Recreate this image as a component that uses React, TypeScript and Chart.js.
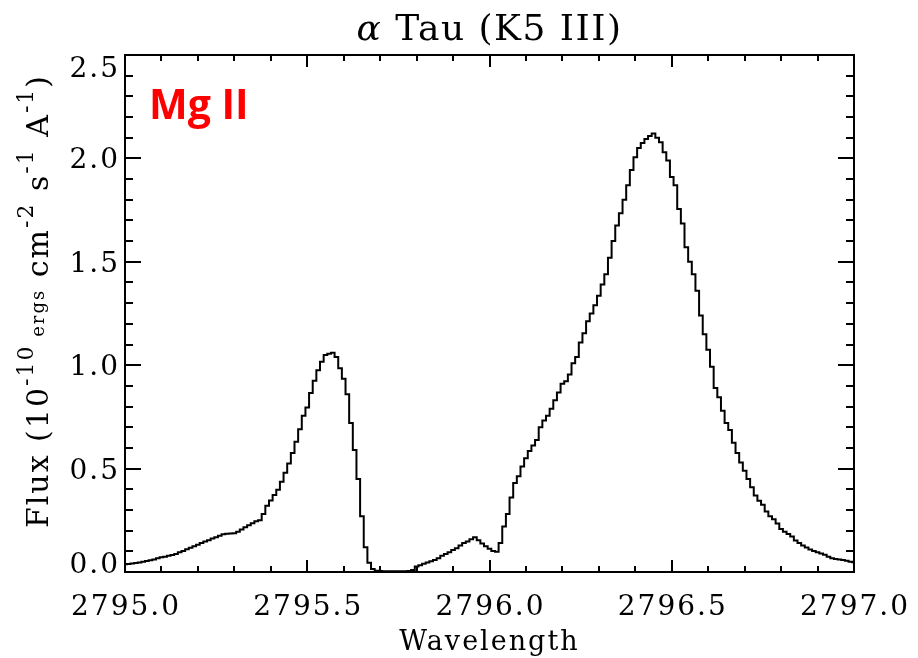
import { useEffect, useRef } from "react";
import { Chart, registerables } from "chart.js";

Chart.register(...registerables);

// Sampling grid of the spectrum (Angstrom)
const WAVE_START = 2795.0;
const WAVE_STEP = 0.01;

// Flux (1e-10 ergs cm^-2 s^-1 A^-1), one value per bin
const FLUX = [
  0.037, 0.039, 0.041, 0.043, 0.046, 0.050, 0.053, 0.057, 0.060, 0.066,
  0.071, 0.074, 0.078, 0.082, 0.087, 0.095, 0.102, 0.110, 0.117, 0.124,
  0.132, 0.140, 0.147, 0.154, 0.162, 0.168, 0.175, 0.182, 0.185, 0.186,
  0.187, 0.195, 0.206, 0.216, 0.226, 0.236, 0.245, 0.250, 0.280, 0.320,
  0.346, 0.372, 0.398, 0.437, 0.480, 0.525, 0.575, 0.630, 0.690, 0.755,
  0.795, 0.865, 0.925, 0.975, 1.017, 1.049, 1.055, 1.060, 1.040, 0.985,
  0.935, 0.860, 0.720, 0.590, 0.450, 0.270, 0.120, 0.045, 0.015, 0.006,
  0.005, 0.004, 0.004, 0.004, 0.004, 0.004, 0.004, 0.004, 0.005, 0.010,
  0.026, 0.033, 0.040, 0.046, 0.052, 0.058, 0.066, 0.078, 0.087, 0.096,
  0.106, 0.115, 0.128, 0.140, 0.148, 0.158, 0.168, 0.153, 0.138, 0.125,
  0.112, 0.101, 0.098, 0.140, 0.220, 0.280, 0.360, 0.430, 0.463, 0.510,
  0.550, 0.585, 0.612, 0.638, 0.700, 0.733, 0.756, 0.790, 0.830, 0.868,
  0.910, 0.922, 0.955, 1.010, 1.040, 1.110, 1.155, 1.212, 1.250, 1.290,
  1.336, 1.390, 1.440, 1.520, 1.600, 1.675, 1.735, 1.800, 1.870, 1.944,
  2.005, 2.050, 2.075, 2.094, 2.108, 2.121, 2.100, 2.078, 2.030, 1.990,
  1.910, 1.870, 1.755, 1.685, 1.570, 1.500, 1.440, 1.360, 1.240, 1.150,
  1.075, 0.993, 0.890, 0.845, 0.780, 0.720, 0.687, 0.625, 0.575, 0.530,
  0.490, 0.450, 0.410, 0.370, 0.345, 0.325, 0.292, 0.270, 0.255, 0.235,
  0.208, 0.195, 0.184, 0.172, 0.152, 0.140, 0.128, 0.118, 0.109, 0.102,
  0.096, 0.090, 0.084, 0.074, 0.066, 0.063, 0.060, 0.058, 0.054, 0.050,
  0.047,
];

const X_MIN = 2795.0;
const X_MAX = 2797.0;
const Y_MIN = 0.0;
const Y_MAX = 2.5;
const X_TICKS = [2795.0, 2795.5, 2796.0, 2796.5, 2797.0];
const Y_TICKS = [0.0, 0.5, 1.0, 1.5, 2.0, 2.5];
const X_MINOR = 0.1;
const Y_MINOR = 0.1;

const TITLE_GREEK = "α";
const TITLE_REST = " Tau (K5 III)";
const X_TITLE = "Wavelength";
const LINE_LABEL = "Mg II";
const Y_TITLE_PARTS = [
  { t: "Flux (10", s: 1, r: 0 },
  { t: "-10", s: 0.72, r: 0.5 },
  { t: " ergs", s: 0.6, r: 0.12 },
  { t: " cm", s: 1, r: 0 },
  { t: "-2", s: 0.72, r: 0.5 },
  { t: " s", s: 1, r: 0 },
  { t: "-1", s: 0.72, r: 0.5 },
  { t: " A", s: 1, r: 0 },
  { t: "-1", s: 0.72, r: 0.5 },
  { t: ")", s: 1, r: 0 },
];

const SERIF = "'DejaVu Serif', serif";

const framePlugin = {
  id: "idlFrame",
  afterDatasetsDraw(chart: any) {
    const { ctx, chartArea: a, scales } = chart;
    const xs = scales.x;
    const ys = scales.y;
    ctx.save();
    ctx.strokeStyle = "#000";
    ctx.lineWidth = 2;
    ctx.strokeRect(a.left, a.top, a.right - a.left, a.bottom - a.top);

    // inward ticks on all four sides
    ctx.beginPath();
    const nx = Math.round((X_MAX - X_MIN) / X_MINOR);
    for (let k = 0; k <= nx; k++) {
      const v = X_MIN + k * X_MINOR;
      const px = Math.round(xs.getPixelForValue(v));
      const len = k % 5 === 0 ? 12 : 6;
      ctx.moveTo(px, a.bottom);
      ctx.lineTo(px, a.bottom - len);
      ctx.moveTo(px, a.top);
      ctx.lineTo(px, a.top + len);
    }
    const ny = Math.round((Y_MAX - Y_MIN) / Y_MINOR);
    for (let k = 0; k <= ny; k++) {
      const v = Y_MIN + k * Y_MINOR;
      const py = Math.round(ys.getPixelForValue(v));
      const len = k % 5 === 0 ? 16 : 8;
      ctx.moveTo(a.left, py);
      ctx.lineTo(a.left + len, py);
      ctx.moveTo(a.right, py);
      ctx.lineTo(a.right - len, py);
    }
    ctx.stroke();

    ctx.fillStyle = "#000";
    (ctx as any).letterSpacing = "2px";
    // x tick labels
    ctx.font = `28px ${SERIF}`;
    ctx.textAlign = "center";
    ctx.textBaseline = "alphabetic";
    X_TICKS.forEach((v) => {
      const px = xs.getPixelForValue(v);
      ctx.fillText(v.toFixed(1), px + 1, a.bottom + 43);
    });
    // y tick labels
    ctx.textAlign = "right";
    Y_TICKS.forEach((v) => {
      let cy = ys.getPixelForValue(v);
      cy = Math.max(a.top + 12, Math.min(a.bottom - 9, cy));
      ctx.fillText(v.toFixed(1), a.left - 5, cy + 10);
    });

    // x title
    ctx.font = `27px ${SERIF}`;
    ctx.textAlign = "center";
    ctx.fillText(X_TITLE, (a.left + a.right) / 2, 650);

    // title
    (ctx as any).letterSpacing = "1.5px";
    ctx.font = `italic 36px ${SERIF}`;
    const w1 = ctx.measureText(TITLE_GREEK).width;
    ctx.font = `36px ${SERIF}`;
    const w2 = ctx.measureText(TITLE_REST).width;
    const tx = (a.left + a.right) / 2 - (w1 + w2) / 2;
    ctx.textAlign = "left";
    ctx.font = `italic 36px ${SERIF}`;
    ctx.fillText(TITLE_GREEK, tx, 40);
    ctx.font = `36px ${SERIF}`;
    ctx.fillText(TITLE_REST, tx + w1, 40);

    // y title (rotated, with superscripts)
    (ctx as any).letterSpacing = "2px";
    const base = 30;
    let total = 0;
    const widths = Y_TITLE_PARTS.map((p) => {
      ctx.font = `${Math.round(base * p.s)}px ${SERIF}`;
      const w = ctx.measureText(p.t).width;
      total += w;
      return w;
    });
    ctx.save();
    ctx.translate(37, 301);
    ctx.rotate(-Math.PI / 2);
    let u = -total / 2;
    Y_TITLE_PARTS.forEach((p, i) => {
      ctx.font = `${Math.round(base * p.s)}px ${SERIF}`;
      ctx.fillText(p.t, u, 11 - p.r * base);
      u += widths[i];
    });
    ctx.restore();

    // Mg II label
    (ctx as any).letterSpacing = "0px";
    ctx.fillStyle = "#ff0000";
    ctx.font = `bold 41px 'Open Sans', sans-serif`;
    ctx.textAlign = "left";
    ctx.fillText(LINE_LABEL, 149, 119);
    ctx.restore();
  },
};

export default function App() {
  const ref = useRef<HTMLCanvasElement | null>(null);
  useEffect(() => {
    if (!ref.current) return;
    const points = FLUX.map((f, i) => ({ x: WAVE_START + i * WAVE_STEP, y: f }));
    const chart = new Chart(ref.current, {
      type: "line",
      data: {
        datasets: [
          {
            data: points,
            stepped: "middle",
            borderColor: "#000",
            borderWidth: 2,
            pointRadius: 0,
            fill: false,
          },
        ],
      },
      options: {
        animation: false,
        responsive: true,
        maintainAspectRatio: false,
        layout: { padding: { left: 125, right: 64, top: 55, bottom: 86 } },
        scales: {
          x: { type: "linear", min: X_MIN, max: X_MAX, display: false },
          y: { type: "linear", min: Y_MIN, max: Y_MAX, display: false },
        },
        plugins: { legend: { display: false }, tooltip: { enabled: false } },
      },
      plugins: [framePlugin],
    });
    return () => chart.destroy();
  }, []);
  return (
    <div style={{ position: "absolute", left: 0, top: 0, width: 918, height: 658, background: "#fff" }}>
      <canvas ref={ref} />
    </div>
  );
}
